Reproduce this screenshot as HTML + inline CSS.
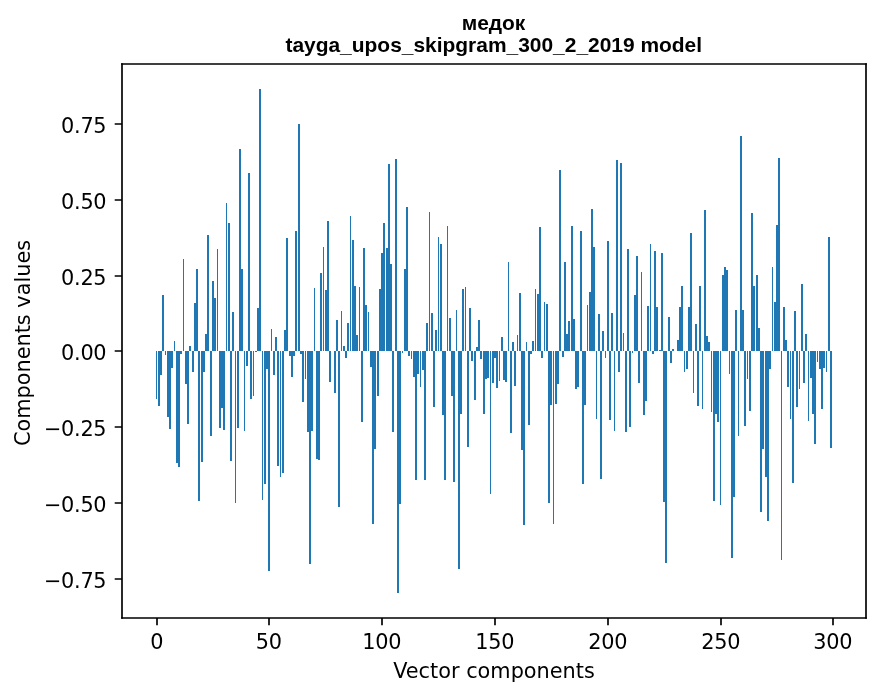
<!DOCTYPE html>
<html><head><meta charset="utf-8"><title>медок</title>
<style>html,body{margin:0;padding:0;background:#fff}svg{display:block;will-change:transform}text{font-family:"DejaVu Sans","Liberation Sans",sans-serif;fill:#000}.t{font-family:"Liberation Sans","DejaVu Sans",sans-serif;font-weight:bold}</style></head>
<body>
<svg width="880" height="696" viewBox="0 0 880 696">
<rect width="880" height="696" fill="#fff"/>
<g fill="#1f77b4" shape-rendering="crispEdges">
<rect x="156" y="351" width="1" height="48"/>
<rect x="158" y="351" width="2" height="55"/>
<rect x="160" y="351" width="2" height="24"/>
<rect x="162" y="295" width="2" height="56"/>
<rect x="165" y="351" width="1" height="4"/>
<rect x="167" y="351" width="2" height="66"/>
<rect x="169" y="351" width="2" height="78"/>
<rect x="171" y="351" width="2" height="17"/>
<rect x="174" y="341" width="1" height="10"/>
<rect x="176" y="351" width="2" height="112"/>
<rect x="178" y="351" width="2" height="116"/>
<rect x="180" y="351" width="2" height="3"/>
<rect x="183" y="259" width="1" height="92"/>
<rect x="185" y="351" width="2" height="33"/>
<rect x="187" y="351" width="2" height="73"/>
<rect x="189" y="346" width="2" height="5"/>
<rect x="192" y="351" width="2" height="21"/>
<rect x="194" y="303" width="2" height="48"/>
<rect x="196" y="269" width="2" height="82"/>
<rect x="198" y="351" width="2" height="150"/>
<rect x="201" y="351" width="2" height="111"/>
<rect x="203" y="351" width="2" height="21"/>
<rect x="205" y="334" width="2" height="17"/>
<rect x="207" y="235" width="2" height="116"/>
<rect x="210" y="351" width="2" height="85"/>
<rect x="212" y="281" width="2" height="70"/>
<rect x="214" y="298" width="2" height="53"/>
<rect x="217" y="249" width="1" height="102"/>
<rect x="219" y="351" width="2" height="77"/>
<rect x="221" y="351" width="2" height="57"/>
<rect x="223" y="351" width="2" height="79"/>
<rect x="226" y="203" width="1" height="148"/>
<rect x="228" y="223" width="2" height="128"/>
<rect x="230" y="351" width="2" height="110"/>
<rect x="232" y="312" width="2" height="39"/>
<rect x="235" y="351" width="1" height="152"/>
<rect x="237" y="351" width="2" height="77"/>
<rect x="239" y="149" width="2" height="202"/>
<rect x="241" y="269" width="2" height="82"/>
<rect x="244" y="351" width="1" height="80"/>
<rect x="246" y="351" width="2" height="15"/>
<rect x="248" y="173" width="2" height="178"/>
<rect x="250" y="351" width="2" height="48"/>
<rect x="253" y="351" width="1" height="45"/>
<rect x="255" y="351" width="2" height="1"/>
<rect x="257" y="308" width="2" height="43"/>
<rect x="259" y="89" width="2" height="262"/>
<rect x="262" y="351" width="1" height="149"/>
<rect x="264" y="351" width="2" height="133"/>
<rect x="266" y="351" width="2" height="18"/>
<rect x="268" y="351" width="2" height="220"/>
<rect x="271" y="329" width="1" height="22"/>
<rect x="273" y="351" width="2" height="24"/>
<rect x="275" y="337" width="2" height="14"/>
<rect x="277" y="351" width="2" height="115"/>
<rect x="280" y="351" width="1" height="126"/>
<rect x="282" y="351" width="2" height="122"/>
<rect x="284" y="330" width="2" height="21"/>
<rect x="286" y="238" width="2" height="113"/>
<rect x="289" y="351" width="2" height="5"/>
<rect x="291" y="351" width="2" height="26"/>
<rect x="293" y="351" width="2" height="5"/>
<rect x="295" y="231" width="2" height="120"/>
<rect x="298" y="124" width="2" height="227"/>
<rect x="300" y="351" width="2" height="3"/>
<rect x="302" y="351" width="2" height="51"/>
<rect x="305" y="351" width="1" height="28"/>
<rect x="307" y="351" width="2" height="81"/>
<rect x="309" y="351" width="2" height="213"/>
<rect x="311" y="351" width="2" height="80"/>
<rect x="314" y="288" width="1" height="63"/>
<rect x="316" y="351" width="2" height="108"/>
<rect x="318" y="351" width="2" height="109"/>
<rect x="320" y="273" width="2" height="78"/>
<rect x="323" y="247" width="1" height="104"/>
<rect x="325" y="290" width="2" height="61"/>
<rect x="327" y="221" width="2" height="130"/>
<rect x="329" y="351" width="2" height="31"/>
<rect x="334" y="351" width="2" height="42"/>
<rect x="336" y="320" width="2" height="31"/>
<rect x="338" y="351" width="2" height="156"/>
<rect x="341" y="311" width="1" height="40"/>
<rect x="343" y="346" width="2" height="5"/>
<rect x="345" y="351" width="2" height="7"/>
<rect x="347" y="323" width="2" height="28"/>
<rect x="350" y="216" width="1" height="135"/>
<rect x="352" y="240" width="2" height="111"/>
<rect x="354" y="286" width="2" height="65"/>
<rect x="356" y="335" width="2" height="16"/>
<rect x="359" y="287" width="1" height="64"/>
<rect x="361" y="351" width="2" height="71"/>
<rect x="363" y="248" width="2" height="103"/>
<rect x="365" y="305" width="2" height="46"/>
<rect x="368" y="312" width="1" height="39"/>
<rect x="370" y="351" width="2" height="16"/>
<rect x="372" y="351" width="2" height="173"/>
<rect x="374" y="351" width="2" height="98"/>
<rect x="377" y="351" width="2" height="45"/>
<rect x="379" y="289" width="2" height="62"/>
<rect x="381" y="253" width="2" height="98"/>
<rect x="383" y="223" width="2" height="128"/>
<rect x="386" y="248" width="2" height="103"/>
<rect x="388" y="164" width="2" height="187"/>
<rect x="390" y="264" width="2" height="87"/>
<rect x="392" y="351" width="2" height="81"/>
<rect x="395" y="159" width="2" height="192"/>
<rect x="397" y="351" width="2" height="242"/>
<rect x="399" y="351" width="2" height="153"/>
<rect x="402" y="351" width="1" height="2"/>
<rect x="404" y="269" width="2" height="82"/>
<rect x="406" y="207" width="2" height="144"/>
<rect x="408" y="351" width="2" height="5"/>
<rect x="411" y="351" width="1" height="8"/>
<rect x="413" y="351" width="2" height="26"/>
<rect x="415" y="351" width="2" height="129"/>
<rect x="417" y="351" width="2" height="23"/>
<rect x="420" y="351" width="1" height="36"/>
<rect x="422" y="351" width="2" height="19"/>
<rect x="424" y="351" width="2" height="129"/>
<rect x="426" y="323" width="2" height="28"/>
<rect x="429" y="212" width="1" height="139"/>
<rect x="431" y="313" width="2" height="38"/>
<rect x="433" y="351" width="2" height="56"/>
<rect x="435" y="330" width="2" height="21"/>
<rect x="438" y="237" width="1" height="114"/>
<rect x="440" y="244" width="2" height="107"/>
<rect x="442" y="351" width="2" height="64"/>
<rect x="444" y="351" width="2" height="129"/>
<rect x="447" y="226" width="1" height="125"/>
<rect x="449" y="318" width="2" height="33"/>
<rect x="451" y="351" width="2" height="45"/>
<rect x="453" y="351" width="2" height="131"/>
<rect x="456" y="310" width="1" height="41"/>
<rect x="458" y="351" width="2" height="218"/>
<rect x="460" y="351" width="2" height="63"/>
<rect x="462" y="289" width="2" height="62"/>
<rect x="465" y="287" width="1" height="64"/>
<rect x="467" y="351" width="2" height="96"/>
<rect x="469" y="308" width="2" height="43"/>
<rect x="471" y="351" width="2" height="10"/>
<rect x="474" y="351" width="2" height="49"/>
<rect x="476" y="347" width="2" height="4"/>
<rect x="478" y="320" width="2" height="31"/>
<rect x="480" y="351" width="2" height="8"/>
<rect x="483" y="351" width="2" height="63"/>
<rect x="485" y="351" width="2" height="28"/>
<rect x="487" y="351" width="2" height="27"/>
<rect x="490" y="351" width="1" height="143"/>
<rect x="492" y="351" width="2" height="32"/>
<rect x="494" y="351" width="2" height="7"/>
<rect x="496" y="351" width="2" height="37"/>
<rect x="499" y="351" width="1" height="30"/>
<rect x="501" y="337" width="2" height="14"/>
<rect x="503" y="351" width="2" height="29"/>
<rect x="505" y="351" width="2" height="31"/>
<rect x="508" y="262" width="1" height="89"/>
<rect x="510" y="351" width="2" height="82"/>
<rect x="512" y="342" width="2" height="9"/>
<rect x="514" y="351" width="2" height="35"/>
<rect x="517" y="335" width="1" height="16"/>
<rect x="519" y="293" width="2" height="58"/>
<rect x="521" y="351" width="2" height="99"/>
<rect x="523" y="351" width="2" height="174"/>
<rect x="526" y="342" width="1" height="9"/>
<rect x="528" y="351" width="2" height="74"/>
<rect x="530" y="351" width="2" height="3"/>
<rect x="532" y="341" width="2" height="10"/>
<rect x="535" y="289" width="1" height="62"/>
<rect x="537" y="294" width="2" height="57"/>
<rect x="539" y="227" width="2" height="124"/>
<rect x="541" y="351" width="2" height="7"/>
<rect x="544" y="302" width="1" height="49"/>
<rect x="546" y="304" width="2" height="47"/>
<rect x="548" y="351" width="2" height="152"/>
<rect x="550" y="351" width="2" height="54"/>
<rect x="553" y="351" width="1" height="173"/>
<rect x="555" y="351" width="2" height="53"/>
<rect x="557" y="351" width="2" height="33"/>
<rect x="559" y="170" width="2" height="181"/>
<rect x="562" y="351" width="2" height="6"/>
<rect x="564" y="262" width="2" height="89"/>
<rect x="566" y="334" width="2" height="17"/>
<rect x="568" y="321" width="2" height="30"/>
<rect x="571" y="226" width="2" height="125"/>
<rect x="573" y="319" width="2" height="32"/>
<rect x="575" y="351" width="2" height="38"/>
<rect x="577" y="351" width="2" height="36"/>
<rect x="580" y="231" width="2" height="120"/>
<rect x="582" y="351" width="2" height="133"/>
<rect x="584" y="351" width="2" height="54"/>
<rect x="587" y="305" width="1" height="46"/>
<rect x="589" y="292" width="2" height="59"/>
<rect x="591" y="209" width="2" height="142"/>
<rect x="593" y="247" width="2" height="104"/>
<rect x="596" y="351" width="1" height="68"/>
<rect x="598" y="314" width="2" height="37"/>
<rect x="600" y="351" width="2" height="128"/>
<rect x="602" y="331" width="2" height="20"/>
<rect x="605" y="351" width="1" height="7"/>
<rect x="607" y="241" width="2" height="110"/>
<rect x="609" y="351" width="2" height="69"/>
<rect x="611" y="313" width="2" height="38"/>
<rect x="614" y="351" width="1" height="80"/>
<rect x="616" y="160" width="2" height="191"/>
<rect x="618" y="351" width="2" height="21"/>
<rect x="620" y="163" width="2" height="188"/>
<rect x="623" y="333" width="1" height="18"/>
<rect x="625" y="351" width="2" height="81"/>
<rect x="627" y="249" width="2" height="102"/>
<rect x="629" y="351" width="2" height="76"/>
<rect x="632" y="351" width="1" height="2"/>
<rect x="634" y="295" width="2" height="56"/>
<rect x="636" y="256" width="2" height="95"/>
<rect x="638" y="351" width="2" height="32"/>
<rect x="641" y="272" width="1" height="79"/>
<rect x="643" y="351" width="2" height="64"/>
<rect x="645" y="351" width="2" height="50"/>
<rect x="647" y="306" width="2" height="45"/>
<rect x="650" y="244" width="1" height="107"/>
<rect x="652" y="351" width="2" height="3"/>
<rect x="654" y="251" width="2" height="100"/>
<rect x="656" y="307" width="2" height="44"/>
<rect x="659" y="350" width="2" height="1"/>
<rect x="661" y="253" width="2" height="98"/>
<rect x="663" y="351" width="2" height="151"/>
<rect x="665" y="351" width="2" height="212"/>
<rect x="668" y="317" width="2" height="34"/>
<rect x="670" y="351" width="2" height="12"/>
<rect x="672" y="349" width="2" height="2"/>
<rect x="677" y="340" width="2" height="11"/>
<rect x="679" y="307" width="2" height="44"/>
<rect x="681" y="286" width="2" height="65"/>
<rect x="684" y="351" width="1" height="21"/>
<rect x="686" y="351" width="2" height="18"/>
<rect x="688" y="307" width="2" height="44"/>
<rect x="690" y="233" width="2" height="118"/>
<rect x="693" y="351" width="1" height="42"/>
<rect x="695" y="324" width="2" height="27"/>
<rect x="697" y="351" width="2" height="55"/>
<rect x="699" y="286" width="2" height="65"/>
<rect x="702" y="351" width="1" height="58"/>
<rect x="704" y="210" width="2" height="141"/>
<rect x="706" y="336" width="2" height="15"/>
<rect x="708" y="342" width="2" height="9"/>
<rect x="711" y="351" width="1" height="61"/>
<rect x="713" y="351" width="2" height="150"/>
<rect x="715" y="351" width="2" height="63"/>
<rect x="717" y="351" width="2" height="71"/>
<rect x="720" y="351" width="1" height="154"/>
<rect x="722" y="275" width="2" height="76"/>
<rect x="724" y="267" width="2" height="84"/>
<rect x="726" y="270" width="2" height="81"/>
<rect x="729" y="351" width="1" height="23"/>
<rect x="731" y="351" width="2" height="207"/>
<rect x="733" y="351" width="2" height="146"/>
<rect x="735" y="310" width="2" height="41"/>
<rect x="738" y="351" width="1" height="85"/>
<rect x="740" y="136" width="2" height="215"/>
<rect x="742" y="310" width="2" height="41"/>
<rect x="744" y="351" width="2" height="75"/>
<rect x="747" y="351" width="1" height="28"/>
<rect x="749" y="351" width="2" height="60"/>
<rect x="751" y="213" width="2" height="138"/>
<rect x="753" y="286" width="2" height="65"/>
<rect x="756" y="275" width="2" height="76"/>
<rect x="758" y="328" width="2" height="23"/>
<rect x="760" y="351" width="2" height="161"/>
<rect x="762" y="351" width="2" height="98"/>
<rect x="765" y="351" width="2" height="126"/>
<rect x="767" y="351" width="2" height="170"/>
<rect x="769" y="351" width="2" height="18"/>
<rect x="772" y="267" width="1" height="84"/>
<rect x="774" y="302" width="2" height="49"/>
<rect x="776" y="225" width="2" height="126"/>
<rect x="778" y="158" width="2" height="193"/>
<rect x="781" y="351" width="1" height="209"/>
<rect x="783" y="307" width="2" height="44"/>
<rect x="785" y="340" width="2" height="11"/>
<rect x="787" y="351" width="2" height="36"/>
<rect x="790" y="351" width="1" height="68"/>
<rect x="792" y="351" width="2" height="132"/>
<rect x="794" y="311" width="2" height="40"/>
<rect x="796" y="351" width="2" height="56"/>
<rect x="799" y="351" width="1" height="38"/>
<rect x="801" y="284" width="2" height="67"/>
<rect x="803" y="351" width="2" height="32"/>
<rect x="805" y="334" width="2" height="17"/>
<rect x="808" y="351" width="1" height="70"/>
<rect x="810" y="351" width="2" height="27"/>
<rect x="812" y="351" width="2" height="63"/>
<rect x="814" y="351" width="2" height="93"/>
<rect x="817" y="351" width="1" height="11"/>
<rect x="819" y="351" width="2" height="18"/>
<rect x="821" y="351" width="2" height="58"/>
<rect x="823" y="351" width="2" height="17"/>
<rect x="826" y="351" width="1" height="21"/>
<rect x="828" y="237" width="2" height="114"/>
<rect x="830" y="351" width="2" height="97"/>
</g>
<g stroke="#000" stroke-width="1.667" fill="none">
<path d="M122 618V64M866 618V64" stroke-linecap="square"/>
<path d="M122 618H866M122 64H866" stroke-linecap="square"/>
<path d="M157 618v7.3M269 618v7.3M382 618v7.3M495 618v7.3M608 618v7.3M721 618v7.3M833 618v7.3M122 579h-7.3M122 503h-7.3M122 427h-7.3M122 351h-7.3M122 276h-7.3M122 200h-7.3M122 124h-7.3"/>
</g>
<g font-size="20.83px" letter-spacing="-0.3">
<text x="156.8" y="648.6" text-anchor="middle">0</text>
<text x="268.8" y="648.6" text-anchor="middle">50</text>
<text x="381.8" y="648.6" text-anchor="middle">100</text>
<text x="494.8" y="648.6" text-anchor="middle">150</text>
<text x="607.8" y="648.6" text-anchor="middle">200</text>
<text x="720.8" y="648.6" text-anchor="middle">250</text>
<text x="832.8" y="648.6" text-anchor="middle">300</text>
<text x="106.3" y="587.9" text-anchor="end">−0.75</text>
<text x="106.3" y="511.9" text-anchor="end">−0.50</text>
<text x="106.3" y="435.9" text-anchor="end">−0.25</text>
<text x="106.3" y="359.9" text-anchor="end">0.00</text>
<text x="106.3" y="284.9" text-anchor="end">0.25</text>
<text x="106.3" y="208.9" text-anchor="end">0.50</text>
<text x="106.3" y="132.9" text-anchor="end">0.75</text>
</g>
<g font-size="20.83px">
<text x="494" y="678" text-anchor="middle">Vector components</text>
<text transform="translate(30 343) rotate(-90)" text-anchor="middle">Components values</text>
</g>
<g class="t" font-size="20.95px" text-anchor="middle">
<text class="t" x="493.5" y="29.5">медок</text>
<text class="t" x="493.75" y="51.5">tayga_upos_skipgram_300_2_2019 model</text>
</g>
</svg>
</body></html>
